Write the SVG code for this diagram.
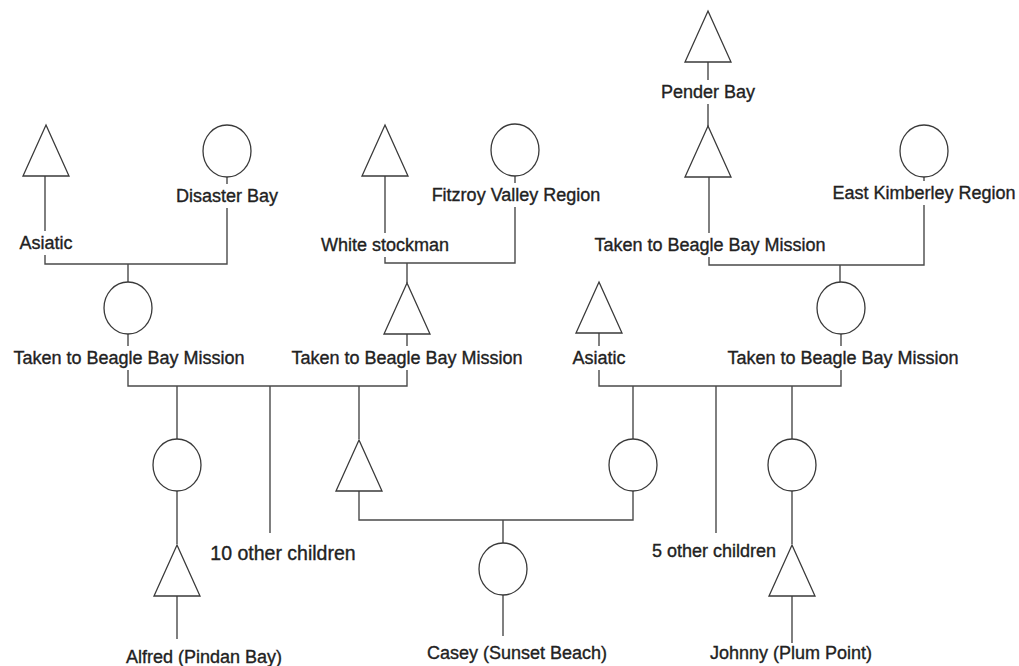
<svg xmlns="http://www.w3.org/2000/svg" width="1019" height="666" viewBox="0 0 1019 666">
<style>
.bg{fill:#ffffff}
.m{fill:#ffffff;stroke:#3a3a3a;stroke-width:1.3}
.f{fill:#ffffff;stroke:#3a3a3a;stroke-width:1.3}
.c{fill:none;stroke:#4a4a4a;stroke-width:1.4}
text{font-family:"Liberation Sans",Arial,sans-serif;font-size:18px;fill:#222222;stroke:#222222;stroke-width:0.35;text-anchor:middle}
</style>
<defs>
<polygon id="tri" points="0,0 23,51 -23,51"/>
<ellipse id="cir" cx="0" cy="26" rx="24" ry="26"/>
</defs>
<rect class="bg" x="0" y="0" width="1019" height="666"/>
<g id="connectors" class="c">
<path d="M45,176V231M45,255V264H227V208M227,184V177M128,264V282"/>
<path d="M385,176V233M385,257V263H515V207M515,183V176M407,263V283"/>
<path d="M708,62V80M708,104V127M709,177V233M709,257V265H924V205M924,181V177M840,265V282"/>
<path d="M128,334V346M128,370V386H407V370M407,346V334"/>
<path d="M177,386V439M270,386V533M359,386V439"/>
<path d="M599,333V346M599,370V386H841V370M841,346V334"/>
<path d="M633,386V439M716,386V533M792,386V439"/>
<path d="M359,491V520H633V491M503,520V543"/>
<path d="M177,491V544M177,596V639"/>
<path d="M503,595V636"/>
<path d="M792,491V544M792,596V643"/>
</g>
<g id="n-asiatic1"><use href="#tri" class="m" x="46" y="125"/><text x="46" y="249">Asiatic</text></g>
<g id="n-disaster"><use href="#cir" class="f" x="227" y="125"/><text x="227" y="202">Disaster Bay</text></g>
<g id="n-white"><use href="#tri" class="m" x="385" y="125"/><text x="385" y="251">White stockman</text></g>
<g id="n-fitzroy"><use href="#cir" class="f" x="515" y="124"/><text x="516" y="201">Fitzroy Valley Region</text></g>
<g id="n-pender"><use href="#tri" class="m" x="708" y="11"/><text x="708" y="98">Pender Bay</text></g>
<g id="n-takenTR"><use href="#tri" class="m" x="708" y="126"/><text x="710" y="251">Taken to Beagle Bay Mission</text></g>
<g id="n-eastk"><use href="#cir" class="f" x="924" y="125"/><text x="924" y="199">East Kimberley Region</text></g>
<g id="n-takenL"><use href="#cir" class="f" x="128" y="282"/><text x="129" y="364">Taken to Beagle Bay Mission</text></g>
<g id="n-takenM"><use href="#tri" class="m" x="407" y="283"/><text x="407" y="364">Taken to Beagle Bay Mission</text></g>
<g id="n-asiatic2"><use href="#tri" class="m" x="599" y="282"/><text x="599" y="364">Asiatic</text></g>
<g id="n-takenR"><use href="#cir" class="f" x="841" y="282"/><text x="843" y="364">Taken to Beagle Bay Mission</text></g>
<g id="n-alfredmother"><use href="#cir" class="f" x="177" y="439"/></g>
<g id="n-10other"><text x="283" y="560" style="font-size:19.5px">10 other children</text></g>
<g id="n-caseyfather"><use href="#tri" class="m" x="359" y="440"/></g>
<g id="n-caseymother"><use href="#cir" class="f" x="633" y="439"/></g>
<g id="n-5other"><text x="714" y="557">5 other children</text></g>
<g id="n-johnnymother"><use href="#cir" class="f" x="792" y="439"/></g>
<g id="n-alfred"><use href="#tri" class="m" x="177" y="545"/><text x="204" y="663">Alfred (Pindan Bay)</text></g>
<g id="n-casey"><use href="#cir" class="f" x="503" y="543"/><text x="517" y="659">Casey (Sunset Beach)</text></g>
<g id="n-johnny"><use href="#tri" class="m" x="792" y="545"/><text x="791" y="659">Johnny (Plum Point)</text></g>
</svg>
